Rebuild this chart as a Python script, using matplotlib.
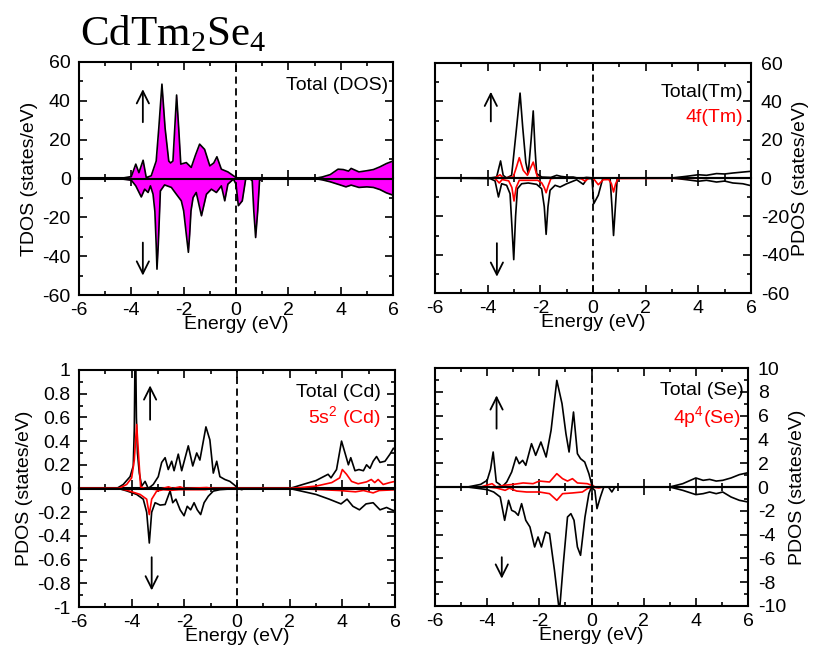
import matplotlib
matplotlib.use("Agg")
import matplotlib.pyplot as plt
from matplotlib.ticker import MultipleLocator

plt.rcParams['font.family'] = ['Liberation Sans', 'DejaVu Sans']
plt.rcParams['axes.unicode_minus'] = False
plt.rcParams['mathtext.fontset'] = 'custom'
plt.rcParams['mathtext.rm'] = 'Liberation Sans'

# ---------------- data ----------------
# Panel (a) total DOS
tdos_up_E = [-6, -4.6, -4.3, -4.0, -3.83, -3.71, -3.55, -3.43, -3.24, -3.05, -2.95, -2.83, -2.71, -2.57,
             -2.50, -2.41, -2.34, -2.27, -2.19, -2.11, -1.90, -1.71, -1.55, -1.39, -1.20, -1.0, -0.85, -0.73,
             -0.56, -0.31, 0.0, 0.2, 3.0, 3.3, 3.6, 3.9, 4.1, 4.3, 4.4, 4.7, 5.0, 5.25, 5.5, 5.75, 6.0]
tdos_up = [0, 0, 0.3, 1, 7.4, 3, 9.4, 0.5, 1.4, 9, 26, 48.6, 26, 9,
           8, 9, 26, 43, 26, 7.4, 8.2, 5.7, 12, 17.7, 15, 6.5, 8, 11.2,
           4.8, 3.4, 0.5, 0, 0, 0.8, 2, 4.8, 4.6, 3.8, 5.2, 3.4, 4, 4.6, 6, 7.7, 9]
tdos_dn_E = [-6, -4.5, -4.0, -3.83, -3.62, -3.49, -3.36, -3.27, -3.17, -3.10, -3.05, -3.02, -2.97, -2.92,
             -2.89, -2.73, -2.47, -2.28, -2.09, -2.0, -1.9, -1.82, -1.77, -1.72, -1.64, -1.52, -1.32, -1.13,
             -0.94, -0.75, -0.56, -0.43, -0.31, -0.1, 0.0, 0.09, 0.24, 0.37, 0.52, 0.62, 0.68, 0.75, 0.83,
             0.9, 1.03, 3.0, 3.3, 3.6, 4.0, 4.2, 4.4, 4.7, 5.0, 5.25, 5.5, 5.75, 6.0]
tdos_dn = [0, 0, -0.9, -3.8, -9.5, -5.5, -7.2, -3.8, -8.1, -17, -34, -46.7, -34, -17,
           -6.4, -3.3, -4.6, -8.1, -11.5, -16.7, -28.7, -38, -28.7, -16.7, -9.8, -7.2, -19.2, -8.1,
           -5.5, -7.2, -3.8, -11.5, -2.9, -0.3, -2.9, -14, -11.5, -0.3, 0, -1.2, -16.7, -30.4, -16.7,
           -1, 0, 0, -0.7, -1.7, -3.4, -4.3, -3.4, -4.6, -4.3, -4.6, -5.7, -7.4, -8.6]

# Panel (b) Tm
tm_up_E = [-6, -3.91, -3.66, -3.51, -3.41, -3.28, -3.09, -2.9, -2.77, -2.67, -2.55, -2.46, -2.35, -2.27,
           -2.2, -2.14, -1.95, -1.6, -1.38, -1.2, -1.0, -0.75, -0.5, -0.25, 0, 0.3, 3.0, 3.56, 4.0, 4.31,
           4.69, 5.0, 5.31, 5.69, 6.0]
tm_up = [0, 0, 0.5, 8.9, 1.4, 0, 1.4, 26.6, 44.3, 26.6, 8, 2.3, 20, 35,
         15, 2.3, 0.5, 0.3, 1.4, 0.8, 0.5, 0.5, -0.3, 0.3, 0, 0, 0, 0.9, 1.7, 1.4,
         2.3, 2.1, 2.6, 3.1, 3.5]
tm_dn_E = [-6, -3.91, -3.72, -3.59, -3.47, -3.28, -3.15, -3.08, -3.01, -2.94, -2.87, -2.71, -2.46, -2.14,
           -1.95, -1.85, -1.78, -1.71, -1.63, -1.44, -1.25, -1.0, -0.62, -0.37, -0.22, -0.04, 0.03, 0.2,
           0.37, 0.65, 0.72, 0.78, 0.85, 0.92, 1.0, 3.0, 3.56, 4.0, 4.31, 4.69, 5.0, 5.31, 5.69, 6.0]
tm_dn = [0, -0.3, -1.5, -9.9, -3, -3.8, -8.2, -25, -42.6, -20, -5.6, -3, -2.6, -3.3,
         -5.6, -15, -29.4, -15, -6.4, -3.8, -4.7, -3, -0.9, -3.3, -0.3, -0.3, -13.4, -9,
         -0.3, -0.3, -15, -30, -15, -0.3, 0, 0, -0.9, -1.7, -1.2, -2.1, -1.6, -2.6, -3, -4]
tm4f_up_E = [-6, -3.75, -3.66, -3.53, -3.41, -3.03, -2.9, -2.8, -2.65, -2.49, -2.38, -2.27, -2.11, -1.95, 6]
tm4f_up = [0, 0, 0.5, 1.7, 0, 0.5, 6, 10.6, 4, 1.4, 5, 8.3, 0.5, 0, 0]
tm4f_dn_E = [-6, -3.75, -3.68, -3.56, -3.45, -3.2, -3.08, -3.0, -2.92, -2.8, -2.1, -1.95, -1.85, -1.78,
             -1.70, -1.6, -1.4, -0.5, -0.3, -0.15, 0.0, 0.2, 0.39, 0.6, 0.7, 0.78, 0.86, 0.95, 6]
tm4f_dn = [0, 0, -0.8, -2.6, -0.8, -1.5, -5, -12, -5, -1.2, -1.2, -2.5, -5, -7.7,
           -4, -0.3, 0, 0, -1.6, 0, 0, -3.5, -0.9, -0.8, -3, -7.3, -3, -0.3, 0]

# Panel (c) Cd
cd_up_E = [-6, -4.57, -4.32, -4.06, -3.94, -3.9, -3.86, -3.82, -3.78, -3.71, -3.62, -3.49, -3.37, -3.18,
           -2.99, -2.86, -2.73, -2.61, -2.48, -2.39, -2.23, -2.1, -1.85, -1.68, -1.53, -1.41, -1.18, -1.03,
           -0.9, -0.77, -0.65, -0.46, -0.27, -0.09, 0.04, 0.18, 0.3, 2.0, 2.5, 3.0, 3.46, 3.57, 3.78, 3.97,
           4.14, 4.23, 4.32, 4.48, 4.63, 4.8, 4.92, 5.05, 5.17, 5.3, 5.43, 5.62, 5.81, 5.94, 6.0]
cd_up = [0, 0, 0.034, 0.10, 0.19, 0.5, 1.4, 0.6, 0.3, 0.13, 0.02, 0.06, 0, 0.034,
         0.10, 0.22, 0.26, 0.16, 0.23, 0.15, 0.29, 0.15, 0.36, 0.19, 0.30, 0.24, 0.52, 0.41,
         0.13, 0.23, 0.10, 0.076, 0.06, 0.028, 0, -0.01, 0, 0, 0.034, 0.067, 0.12, 0.09, 0.16, 0.40,
         0.27, 0.2, 0.26, 0.15, 0.16, 0.15, 0.2, 0.17, 0.23, 0.27, 0.22, 0.23, 0.29, 0.34, 0.33]
cd_dn_E = [-6, -4.5, -4.19, -3.81, -3.56, -3.43, -3.33, -3.24, -3.11, -2.92, -2.73, -2.54, -2.44, -2.32,
           -2.16, -2.01, -1.89, -1.76, -1.63, -1.51, -1.38, -1.25, -1.09, -0.9, -0.65, 0, 2.0, 3.0, 3.5,
           3.95, 4.18, 4.4, 4.65, 4.9, 5.17, 5.43, 5.68, 5.87, 6.0]
cd_dn = [0, 0, -0.02, -0.05, -0.09, -0.2, -0.46, -0.2, -0.12, -0.14, -0.135, -0.02, -0.12, -0.09,
         -0.18, -0.23, -0.15, -0.18, -0.12, -0.18, -0.22, -0.12, -0.065, -0.022, -0.01, 0, 0, -0.05, -0.09,
         -0.13, -0.09, -0.15, -0.18, -0.13, -0.12, -0.18, -0.16, -0.18, -0.19]
cd5s_up_E = [-6, -4.5, -4.19, -4.0, -3.9, -3.81, -3.72, -3.66, -3.5, -3.0, -2.6, -2.45, -2.16, -2.0, -1.15,
             -0.9, 2.0, 3.0, 3.6, 3.9, 4.0, 4.16, 4.35, 4.6, 4.92, 5.1, 5.23, 5.36, 5.55, 5.8, 6.0]
cd5s_up = [0, 0, 0.034, 0.09, 0.24, 0.54, 0.22, 0.014, 0, -0.01, 0.014, 0, 0.014, 0, 0.008,
           0, 0, 0.02, 0.05, 0.09, 0.16, 0.12, 0.06, 0.04, 0.056, 0.076, 0.05, 0.076, 0.034, 0.05, 0.06]
cd5s_dn_E = [-6, -4.5, -4.19, -3.68, -3.43, -3.33, -3.24, -3.05, -2.8, -2.5, -2.2, -1.2, -0.9, 2.0, 3.0,
             3.9, 4.16, 4.5, 4.8, 5.17, 5.4, 6.0]
cd5s_dn = [0, 0, -0.014, -0.05, -0.09, -0.22, -0.09, -0.022, -0.01, -0.015, -0.01, -0.01, 0, 0, -0.008,
           -0.017, -0.022, -0.028, -0.017, -0.037, -0.017, -0.011]

# Panel (d) Se
se_up_E = [-6, -4.75, -4.25, -4.0, -3.87, -3.77, -3.65, -3.52, -3.43, -3.25, -3.06, -2.89, -2.77, -2.64,
           -2.52, -2.3, -2.14, -1.94, -1.74, -1.55, -1.33, -1.13, -0.98, -0.86, -0.69, -0.54, -0.42, -0.26,
           -0.1, 0, 0.09, 3.0, 3.5, 4.0, 4.28, 4.53, 4.78, 5.03, 5.35, 5.67, 6.0]
se_up = [0, 0, 0.22, 0.56, 1.5, 2.94, 0.42, 0.22, 0, 0.42, 1.26, 2.52, 1.96, 2.24,
         1.82, 3.64, 2.66, 3.78, 2.52, 4.76, 8.96, 7.0, 4.48, 2.94, 6.3, 2.8, 2.38, 2.1,
         1.12, 0.28, 0, 0, 0.28, 0.76, 0.56, 0.64, 0.5, 0.56, 0.76, 1.04, 1.2]
se_dn_E = [-6, -4.75, -4.0, -3.75, -3.5, -3.33, -3.18, -3.06, -2.93, -2.81, -2.68, -2.52, -2.36, -2.18,
           -2.05, -1.92, -1.76, -1.61, -1.42, -1.23, -1.08, -0.92, -0.79, -0.67, -0.54, -0.42, -0.25, -0.1,
           0, 0.13, 0.21, 0.34, 0.47, 0.65, 0.78, 0.9, 3.0, 3.5, 4.0, 4.28, 4.53, 4.78, 5.03, 5.35, 5.67, 6.0]
se_dn = [0, 0, -0.22, -0.42, -0.84, -2.8, -1.12, -1.96, -2.1, -2.38, -1.4, -2.8, -3.36, -5.04,
         -4.2, -5.04, -3.78, -3.92, -7.0, -10.5, -6.44, -2.52, -2.24, -2.8, -5.04, -5.74, -2.52, -0.56,
         0, -0.3, -1.82, -0.84, 0, 0, -0.42, 0, 0, -0.28, -0.64, -0.56, -0.42, -0.56, -0.42, -0.84, -1.12, -1.26]
se4p_up_E = [-6, -4.25, -3.81, -3.65, -3.37, -3.0, -2.62, -2.24, -2.0, -1.61, -1.33, -1.11, -0.92, -0.73,
             -0.54, -0.16, 0, 0.15, 6]
se4p_up = [0, 0, 0.28, 0, 0.14, 0.22, 0.34, 0.28, 0.5, 0.42, 1.12, 0.7, 0.5, 0.7, 0.34, 0.28, 0.14, 0, 0]
se4p_dn_E = [-6, -4.0, -3.65, -3.31, -3.15, -2.87, -2.49, -2.0, -1.61, -1.33, -1.11, -0.73, -0.35, -0.16,
             0, 0.28, 0.45, 6]
se4p_dn = [0, 0, -0.08, -0.28, -0.1, -0.34, -0.42, -0.42, -0.56, -1.12, -0.56, -0.5, -0.42, -0.14,
           0, -0.08, 0, 0]

x_ticks = [-6, -4, -2, 0, 2, 4, 6]

# ---------------- figure ----------------
W, H = 813, 655
fig = plt.figure(figsize=(W / 100, H / 100), dpi=100)


def make_ax(l, t, r, b):
    return fig.add_axes([l / W, 1 - b / H, (r - l) / W, (b - t) / H])


FS = 14
LW = 1.2


def style(ax, ylim, ymaj, ymin, right=False):
    ax.set_xlim(-6, 6)
    ax.set_ylim(*ylim)
    ax.set_xticks(x_ticks)
    ax.xaxis.set_minor_locator(MultipleLocator(1))
    ax.yaxis.set_major_locator(MultipleLocator(ymaj))
    ax.yaxis.set_minor_locator(MultipleLocator(ymin))
    ax.tick_params(which='both', direction='in', top=True, bottom=True, left=True, right=True,
                   width=1.2, labelsize=FS)
    ax.tick_params(which='major', length=6)
    ax.tick_params(which='minor', length=3)
    ax.tick_params(axis='x', pad=5)
    ax.tick_params(axis='y', pad=6)
    if right:
        ax.tick_params(axis='y', labelleft=False, labelright=True, pad=7)
        ax.yaxis.set_label_position('right')
    for s in ax.spines.values():
        s.set_linewidth(1.5)
    # zero axis with crossing ticks
    sec = ax.secondary_xaxis(0.5)
    sec.set_xticks(x_ticks)
    sec.xaxis.set_minor_locator(MultipleLocator(1))
    sec.tick_params(which='both', direction='inout', labelbottom=False, labeltop=False, width=1.2)
    sec.tick_params(which='major', length=12)
    sec.tick_params(which='minor', length=6)
    for s in sec.spines.values():
        s.set_linewidth(1.5)
    ax.axhline(0, color='k', lw=1.5, zorder=5)
    ax.axvline(0, color='k', lw=1.3, ls=(0, (4, 2.5)), zorder=4)
    ax.set_xlabel('Energy (eV)', fontsize=FS, labelpad=-2)


def arrows(ax, xu, yu0, yu1, xd, yd0, yd1):
    ap = dict(arrowstyle='->', lw=1.3, color='k', mutation_scale=22, shrinkA=0, shrinkB=0)
    ax.annotate('', xy=(xu, yu1), xytext=(xu, yu0), arrowprops=ap)
    ax.annotate('', xy=(xd, yd1), xytext=(xd, yd0), arrowprops=ap)


# (a) TDOS
ax1 = make_ax(79, 62, 393, 295)
ax1.fill_between(tdos_up_E, tdos_up, 0, color='#ff00ff', lw=0)
ax1.fill_between(tdos_dn_E, tdos_dn, 0, color='#ff00ff', lw=0)
ax1.plot(tdos_up_E, tdos_up, color='k', lw=LW)
ax1.plot(tdos_dn_E, tdos_dn, color='k', lw=LW)
style(ax1, (-60, 60), 20, 10)
ax1.set_ylabel('TDOS (states/eV)', fontsize=FS, labelpad=3)
ax1.text(0.985, 0.90, 'Total (DOS)', transform=ax1.transAxes, ha='right', va='center', fontsize=FS)
arrows(ax1, -3.56, 29, 46, -3.56, -33, -50)

# (b) Tm
ax2 = make_ax(435, 63, 751, 293)
ax2.plot(tm_up_E, tm_up, color='k', lw=LW)
ax2.plot(tm_dn_E, tm_dn, color='k', lw=LW)
ax2.plot(tm4f_up_E, tm4f_up, color='red', lw=LW)
ax2.plot(tm4f_dn_E, tm4f_dn, color='red', lw=LW)
style(ax2, (-60, 60), 20, 10, right=True)
ax2.set_ylabel('PDOS (states/eV)', fontsize=FS, labelpad=2)
ax2.text(0.975, 0.87, 'Total(Tm)', transform=ax2.transAxes, ha='right', va='center', fontsize=FS)
ax2.text(0.975, 0.765, '4f(Tm)', transform=ax2.transAxes, ha='right', va='center', fontsize=FS,
         color='red')
arrows(ax2, -3.88, 29.5, 45, -3.65, -34, -51.5)

# (c) Cd
ax3 = make_ax(79, 370, 395, 607)
ax3.plot(cd_up_E, cd_up, color='k', lw=LW)
ax3.plot(cd_dn_E, cd_dn, color='k', lw=LW)
ax3.plot(cd5s_up_E, cd5s_up, color='red', lw=LW)
ax3.plot(cd5s_dn_E, cd5s_dn, color='red', lw=LW)
style(ax3, (-1, 1), 0.2, 0.1)
ax3.set_yticks([-1, -0.8, -0.6, -0.4, -0.2, 0, 0.2, 0.4, 0.6, 0.8, 1])
ax3.set_yticklabels(['-1', '-0.8', '-0.6', '-0.4', '-0.2', '0', '0.2', '0.4', '0.6', '0.8', '1'])
ax3.set_ylabel('PDOS (states/eV)', fontsize=FS, labelpad=3)
ax3.text(0.955, 0.905, 'Total (Cd)', transform=ax3.transAxes, ha='right', va='center', fontsize=FS)
ax3.text(0.955, 0.797, '5s$^\\mathregular{2}$ (Cd)', transform=ax3.transAxes, ha='right', va='center',
         fontsize=FS, color='red')
arrows(ax3, -3.3, 0.58, 0.87, -3.24, -0.58, -0.86)

# (d) Se
ax4 = make_ax(435, 368, 748, 606)
ax4.plot(se_up_E, se_up, color='k', lw=LW)
ax4.plot(se_dn_E, se_dn, color='k', lw=LW)
ax4.plot(se4p_up_E, se4p_up, color='red', lw=LW)
ax4.plot(se4p_dn_E, se4p_dn, color='red', lw=LW)
style(ax4, (-10, 10), 2, 1, right=True)
ax4.set_ylabel('PDOS (states/eV)', fontsize=FS, labelpad=2)
ax4.text(0.985, 0.905, 'Total (Se)', transform=ax4.transAxes, ha='right', va='center', fontsize=FS)
ax4.text(0.975, 0.79, '4p$^\\mathregular{4}$(Se)', transform=ax4.transAxes, ha='right', va='center',
         fontsize=FS, color='red')
arrows(ax4, -3.64, 4.9, 7.7, -3.44, -5.9, -7.7)

# title
fig.text(80 / W, 1 - 45 / H, 'CdTm$_\\mathregular{2}$Se$_\\mathregular{4}$', fontsize=31,
         family='Liberation Serif', va='baseline', ha='left')

fig.savefig('out.png', dpi=100)
